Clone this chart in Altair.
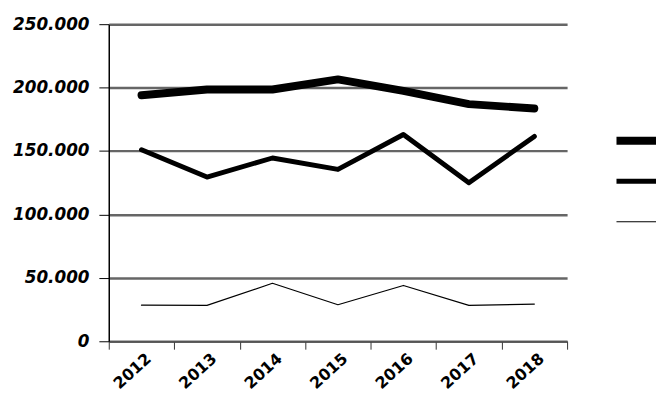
import altair as alt
import pandas as pd

years = ["2012", "2013", "2014", "2015", "2016", "2017", "2018"]
series_names = ["A", "B", "C"]
series_a = [194000, 198500, 198500, 206500, 197500, 187000, 183500]
series_b = [151000, 129500, 144500, 135500, 163000, 125000, 161500]
series_c = [28500, 28300, 45700, 28800, 44000, 28300, 29300]
y_ticks = [0, 50000, 100000, 150000, 200000, 250000]

rows = []
for name, vals in zip(series_names, [series_a, series_b, series_c]):
    for y, v in zip(years, vals):
        rows.append({"year": y, "value": v, "series": name})
df = pd.DataFrame(rows)

chart = alt.Chart(df).mark_line(strokeCap="round", strokeJoin="round", color="black").encode(
    x=alt.X("year:O", bandPosition=0.5,
            scale=alt.Scale(type="band", paddingInner=0, paddingOuter=0),
            axis=alt.Axis(title=None, labelAngle=-42, labelAlign="right", labelBaseline="middle",
                          labelFont="DejaVu Sans", labelFontSize=16, labelFontWeight="bold",
                          labelColor="black", tickBand="extent", tickSize=8, tickColor="#333",
                          domainColor="#555", domainWidth=1.5, labelPadding=7, labelOffset=7)),
    y=alt.Y("value:Q", scale=alt.Scale(domain=[0, 250000], nice=False),
            axis=alt.Axis(title=None, values=y_ticks,
                          labelExpr="replace(format(datum.value, ','), ',', '.')",
                          labelFont="DejaVu Sans", labelFontSize=17, labelFontWeight="bold",
                          labelFontStyle="italic", labelColor="black", labelPadding=10,
                          tickSize=10, tickColor="black", domainColor="black", domainWidth=1.5,
                          grid=True, gridColor="#666", gridWidth=2.5)),
    strokeWidth=alt.StrokeWidth("series:N",
                                scale=alt.Scale(type="ordinal", domain=series_names, range=[8, 5, 1.2]),
                                legend=alt.Legend(title=None, orient="none", legendX=510, legendY=108,
                                                  symbolType="stroke", symbolSize=2704,
                                                  symbolStrokeColor="black", symbolFillColor="black",
                                                  labelExpr="''", clipHeight=20, rowPadding=21)),
    detail="series:N",
).properties(
    width=464, height=321,
    autosize=alt.AutoSizeParams(type="none"),
    padding={"left": 102, "top": 14, "right": 90, "bottom": 52},
).configure_view(stroke=None).configure_axis(labelLimit=0)

chart.save("out.html", embed_options={"renderer": "svg", "actions": False})
